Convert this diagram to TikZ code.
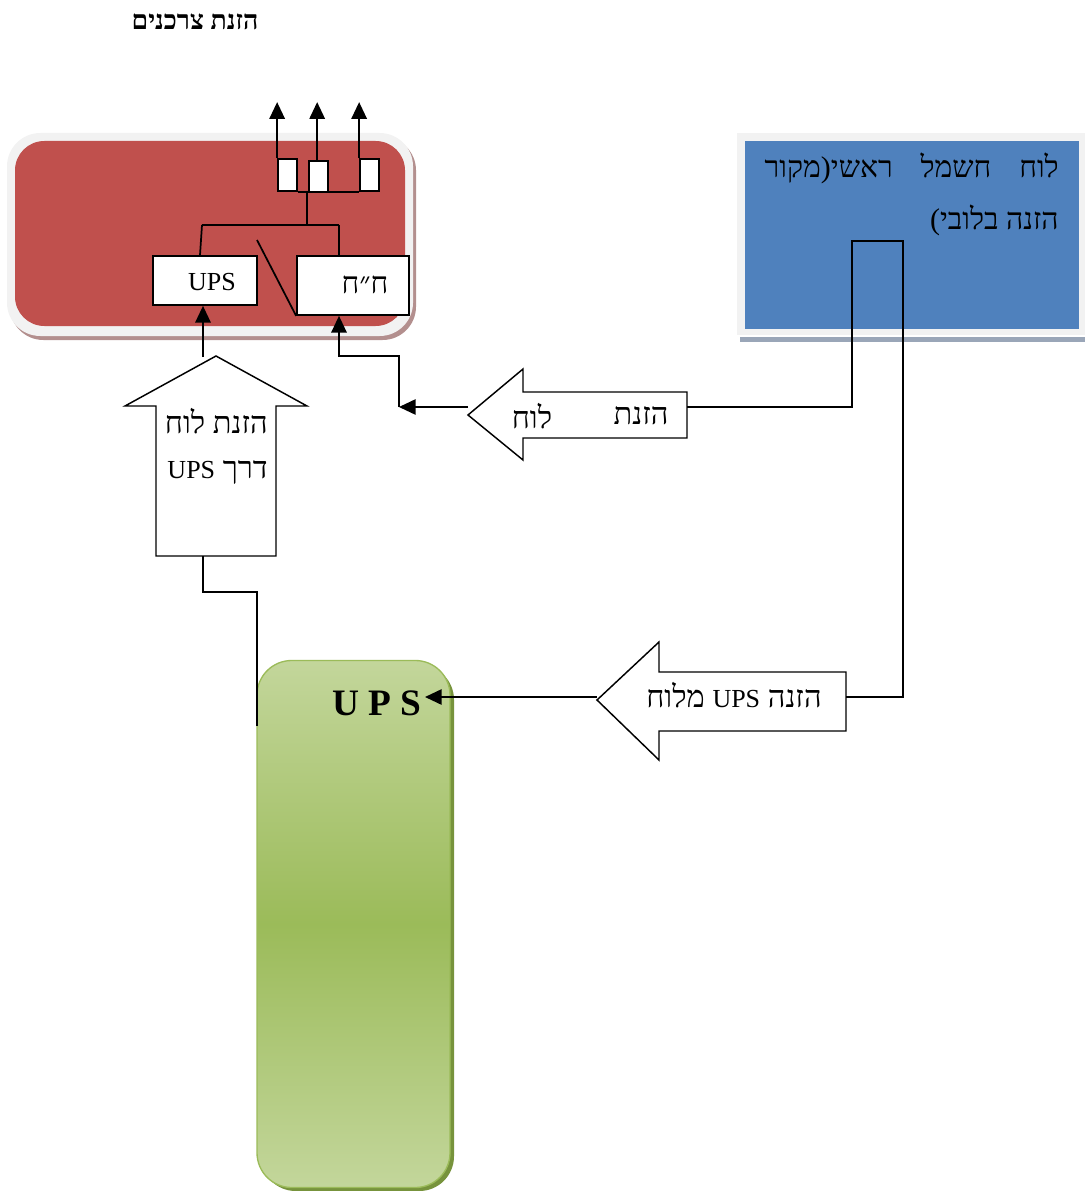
\documentclass[tikz,border=0pt]{standalone}
\usepackage{fontspec}
\setmainfont{Liberation Serif}
\usetikzlibrary{arrows.meta}
\TeXXeTstate=1
\newcommand{\latin}[1]{{\fontsize{19.5}{22}\selectfont #1}}
\definecolor{redbox}{HTML}{C0504D}
\definecolor{redshadow}{HTML}{B38F8E}
\definecolor{framegray}{HTML}{F2F2F2}
\definecolor{bluebox}{HTML}{4F81BD}
\definecolor{blueshadow}{HTML}{9AA6B8}
\definecolor{greenlight}{HTML}{C3D69B}
\definecolor{greenmid}{HTML}{9BBB59}
\definecolor{greenborder}{HTML}{9BBB59}
\definecolor{greenshadow}{HTML}{77933C}
\begin{document}
\begin{tikzpicture}[x=0.75pt,y=-0.75pt,
  wbox/.style={draw=black, fill=white, line width=1.3pt, inner sep=0pt},
  conn/.style={draw=black, line width=1.3pt},
  arr/.style={conn, -{Triangle[length=12.5pt 0,width=11.5pt 0]}},
  blockarrow/.style={draw=black, fill=white, line width=1.1pt, line join=miter},
  txt/.style={inner sep=0pt, font=\fontsize{23}{26}\selectfont}
]
\useasboundingbox (0,0) rectangle (1085,1191);

% title
\node[inner sep=0pt, font=\fontsize{20}{23}\selectfont\bfseries] (title) at (195,22) {\beginR הזנת צרכנים\endR};

% red board
\fill[redshadow, rounded corners=25pt] (10,137) rectangle (416,340);
\fill[framegray, rounded corners=25pt] (7,133) rectangle (413,336);
\fill[redbox, rounded corners=22pt] (15,141) rectangle (405,326);

\node[wbox, minimum width=78pt, minimum height=36.75pt] (ups1) at (205,280.5) {};
\node[inner sep=0pt, font=\fontsize{19.5}{22}\selectfont] (ups1t) at (212,282) {UPS};
\node[wbox, minimum width=84pt, minimum height=44.25pt] (hh) at (353,285.5) {};
\node[inner sep=0pt, font=\fontsize{22.5}{26}\selectfont] (hht) at (365,285) {\beginR ח״ח\endR};

\node[wbox, minimum width=14.25pt, minimum height=24pt] (b1) at (287.5,175) {};
\node[wbox, minimum width=14.25pt, minimum height=23.25pt] (b2) at (318.5,176.5) {};
\node[wbox, minimum width=14.25pt, minimum height=24pt] (b3) at (369.5,175) {};

\coordinate (j1) at (307,191);
\coordinate (j2) at (307,225);
\coordinate (jl) at (202,225);
\coordinate (jr) at (339,225);
\coordinate (sw) at (257,240);
\draw[conn] (b1.south east) -- (b3.south west);
\draw[conn] (j1) -- (j2);
\draw[conn] (jl) -- (jr);
\draw[conn] (jl) -- ([xshift=-3.75pt]ups1.north);
\draw[conn] (jr) -- (jr |- hh.north);
\draw[conn] (sw) -- (hh.south west);

\draw[arr] (b1.north west) -- ++(0,-56);
\draw[arr] ([xshift=-1pt]b2.north) -- ++(0,-58);
\draw[arr] (b3.north west) -- ++(0,-56);

% blue main board
\fill[blueshadow] (740,337) rectangle (1085,342);
\fill[framegray] (737,133) rectangle (1085,335);
\node[fill=bluebox, inner sep=0pt, minimum width=250.5pt, minimum height=140.25pt] (main) at (912,235) {};
\node[txt, font=\fontsize{22.5}{26}\selectfont, anchor=east] (mainl1) at (1059,168)
  {\hbox to 220.5pt{\beginR לוח\hfill חשמל\hfill ראשי\kern0pt)\kern0pt מקור\endR}};
\node[txt, font=\fontsize{22.5}{26}\selectfont, anchor=east] (mainl2) at (1059,220)
  {\beginR הזנה בלובי\kern0pt(\endR};

% left block arrow 1
\draw[blockarrow] (468,415) -- (523,369) -- (523,392) -- (687,392) -- (687,438) -- (523,438) -- (523,460) -- cycle;
\node[txt] (la1a) at (641,416) {\beginR הזנת\endR};
\node[txt] (la1b) at (532,416) {\beginR לוח\endR};

% left block arrow 2
\draw[blockarrow] (597,700) -- (659,642) -- (659,672) -- (846,672) -- (846,731) -- (659,731) -- (659,760) -- cycle;
\node[txt] (la2) at (734,695) {\beginR הזנה \latin{UPS} מלוח\endR};

% up block arrow
\draw[blockarrow] (216,356) -- (307,406) -- (276,406) -- (276,556) -- (156,556) -- (156,406) -- (125,406) -- cycle;
\node[txt, anchor=east] (ua1) at (268,421) {\beginR הזנת לוח\endR};
\node[txt, anchor=east] (ua2) at (268,472) {\beginR דרך \latin{UPS}\endR};

% green UPS
\fill[greenshadow, rounded corners=26pt] (261,665) rectangle (454,1191);
\node[draw=greenborder, line width=1pt, rounded corners=26pt, top color=greenlight, bottom color=greenlight, middle color=greenmid,
  minimum width=144.75pt, minimum height=395.25pt, inner sep=0pt] (upsg) at (353.5,924) {};
\node[inner sep=0pt, font=\fontsize{28}{32}\selectfont\bfseries] (upsgt) at (377,703) {U P S};

% connectors
\coordinate (m1) at (687,407);
\coordinate (m2) at (852,407);
\coordinate (m3) at (852,241);
\coordinate (m4) at (903,241);
\coordinate (m5) at (903,697);
\coordinate (m6) at (846,697);
\draw[conn] (m1) -- (m2) -- (m3) -- (m4) -- (m5) -- (m6);

\coordinate (t1) at (468,407);
\coordinate (c1) at (399,407);
\coordinate (c2) at (399,356);
\coordinate (c3) at (339,356);
\draw[arr] (t1) -- (c1);
\draw[arr] (c1) -- (c2) -- (c3) -- (c3 |- hh.south);

\coordinate (a1) at (203,357);
\draw[arr] (a1) -- (a1 |- ups1.south);

\coordinate (t2) at (597,697);
\coordinate (u1) at (425,697);
\draw[arr] (t2) -- (u1);

\coordinate (d1) at (203,556);
\coordinate (d2) at (203,592);
\coordinate (d3) at (257,592);
\coordinate (d4) at (257,726);
\draw[conn] (d1) -- (d2) -- (d3) -- (d4);
\end{tikzpicture}
\end{document}
